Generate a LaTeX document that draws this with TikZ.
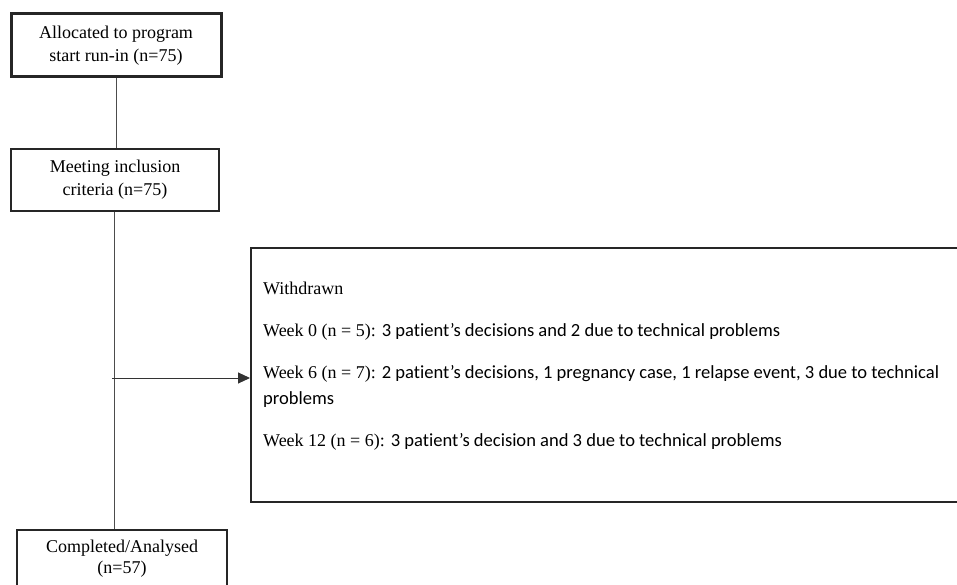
\documentclass[tikz,border=0pt]{standalone}
\usepackage{fontspec}
\setmainfont{Liberation Serif}
\newfontfamily\calfont[Ligatures=NoCommon, Scale=1.03]{Carlito}
\usetikzlibrary{arrows.meta}
\begin{document}
\begin{tikzpicture}[x=1pt,y=-1pt,
  box/.style={draw=black!85, line width=1.6pt, rectangle, align=center, inner sep=0pt,
    font=\fontsize{18}{23}\selectfont},
  link/.style={draw=black!70, line width=1pt},
  arr/.style={draw=black!80, line width=1pt, -{Triangle[length=12pt,width=11pt]}}]
\clip (0,0) rectangle (957,585);
\fill[white] (0,0) rectangle (957,585);
\node[box, line width=3pt, minimum width=210pt, minimum height=63pt] (alloc) at (116,45.5)
  {Allocated to program\\start run-in (n=75)};
\node[box, minimum width=208pt, minimum height=62pt] (meet) at (115,180)
  {Meeting inclusion\\criteria (n=75)};
\node[box, minimum width=210pt, minimum height=64pt] (done) at (122,562) {};
\node[align=center, inner sep=0pt, font=\fontsize{18}{21}\selectfont] (donetext) at (122,559)
  {Completed/Analysed\\(n=57)};
\node[draw=black!85, line width=1.6pt, rectangle, minimum width=730pt, minimum height=254pt,
  anchor=north west, inner sep=0pt] (wd) at (250,247) {};
\node[anchor=north west, inner sep=0pt, align=left, font=\fontsize{18}{26}\selectfont] (wdtext) at (263,282)
  {Withdrawn\\[16pt]
   Week 0 (n = 5): \calfont 3 patient’s decisions and 2 due to technical problems\\[16pt]
   Week 6 (n = 7): \calfont 2 patient’s decisions, 1 pregnancy case, 1 relapse event, 3 due to technical\\
   \calfont problems\\[16pt]
   Week 12 (n = 6): \calfont 3 patient’s decision and 3 due to technical problems};
\draw[link] (alloc.south) -- (meet.north -| alloc.south);
\draw[link] ([xshift=-1pt]meet.south) -- ([xshift=-1pt]meet.south |- done.north);
\coordinate (a) at (112,378);
\draw[arr] (a) -- (a -| wd.west);
\end{tikzpicture}
\end{document}
